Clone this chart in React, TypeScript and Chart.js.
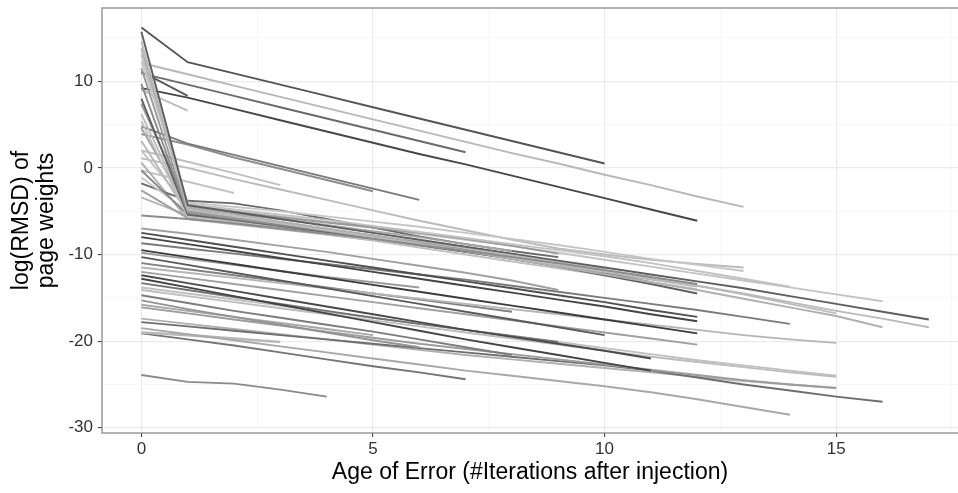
import React, { useEffect, useRef } from "react";
import { Chart, registerables } from "chart.js";

Chart.register(...registerables);

// Each series: log(RMSD) at age 0,1,2,... (iterations after injection)
const upperSeries: number[][] = [
  [16.2, 12.2, 10.9, 9.6, 8.3, 7.0, 5.7, 4.4, 3.1, 1.8, 0.5],
  [12.1, 10.8, 9.5, 8.2, 6.9, 5.6, 4.3, 3.0, 1.7, 0.5, -0.8, -2.0, -3.3, -4.5],
  [10.9, 9.6, 8.3, 7.0, 5.7, 4.4, 3.1, 1.8],
  [9.2, 8.1, 6.8, 5.5, 4.2, 2.9, 1.6, 0.4, -0.9, -2.2, -3.5, -4.8, -6.1],
  [11.1, 8.3],
  [9.0, 6.6],
];
const upperShades = ["#555555", "#b8b8b8", "#6a6a6a", "#474747", "#5a5a5a", "#bdbdbd"];

const middleSeries: number[][] = [
  [4.8, 2.8, 1.5, 0.2, -1.1, -2.4, -3.7],
  [3.9, 2.7, 1.2, -0.1, -1.4, -2.7],
  [1.1, 0.0, -1.3, -2.5, -3.7, -4.9, -6.1, -7.2, -8.3, -9.3, -10.0, -10.6, -11.1, -11.5],
  [-0.3, -1.6, -2.9],
  [2.0, 0.7, -0.6, -2.0],
];
const middleShades = ["#7a7a7a", "#8e8e8e", "#bbbbbb", "#c4c4c4", "#c0c0c0"];

const dropSeries: number[][] = [
  [15.7, -4.3, -5.1, -5.9, -6.7, -7.5, -8.3, -9.1, -9.9, -10.7, -11.5, -12.3, -13.1, -13.9, -14.8, -15.7, -16.6, -17.5],
  [14.6, -4.8, -5.6, -6.4, -7.2, -8.0, -8.8, -9.6, -10.4, -11.2, -12.0, -12.8, -13.6, -14.5, -15.5, -16.5, -17.4, -18.4],
  [13.8, -4.6, -5.4, -6.2, -7.0, -7.8, -8.7, -9.6, -10.5, -11.4, -12.3, -13.2, -14.1, -15.1, -16.1, -17.1, -18.4],
  [13.1, -4.2, -4.8, -5.4, -6.0, -6.7, -7.4, -8.1, -8.8, -9.5, -10.2, -11.0, -11.9, -12.8, -13.7],
  [12.3, -4.0, -4.5, -5.0, -5.6, -6.2, -6.8, -7.5, -8.2, -8.9, -9.7, -10.5, -11.2, -11.9],
  [11.5, -5.0, -5.7, -6.4, -7.1, -7.8, -8.6, -9.5, -10.4, -11.3, -12.2],
  [9.7, -5.2, -5.9, -6.6, -7.3, -8.0, -8.7, -9.5, -10.3, -11.1, -12.1, -13.2],
  [8.0, -5.4, -6.0, -6.7, -7.4, -8.1, -8.9, -9.7, -10.5, -11.4, -12.4, -13.4, -14.5],
  [7.4, -4.5, -5.1, -5.7, -6.3, -6.9, -7.5, -8.2, -9.0, -9.9],
  [6.2, -5.1, -5.8, -6.5, -7.2, -7.9, -8.6, -9.4, -10.2, -11.0, -11.8, -12.7, -13.6, -14.6, -15.7, -16.8],
  [5.4, -5.6, -6.3, -7.0, -7.7, -8.4, -9.2, -10.0, -10.8, -11.6, -12.4, -13.2, -14.0],
  [4.6, -4.7, -5.3, -5.9, -6.6, -7.3, -8.0, -8.8, -9.6],
  [3.1, -5.3, -5.9, -6.5, -7.2, -7.9, -8.6, -9.4, -10.2, -11.0, -11.8, -12.6],
  [-0.3, -5.4, -6.0, -6.7, -7.4, -8.0, -8.6],
  [-1.1, -5.0, -5.7, -6.4, -7.1, -7.8, -8.5, -9.3, -10.1, -10.9, -11.7],
  [-2.6, -5.8, -6.4, -7.0, -7.6, -8.2, -8.9, -9.6, -10.4, -11.2],
  [-3.4, -5.5, -6.1, -6.8, -7.5, -8.2, -8.9, -9.7, -10.5, -11.3, -12.1, -12.9, -13.7],
  [-1.8, -3.8, -4.1, -4.9, -5.9, -6.9, -7.9, -8.8, -9.6, -10.3],
  [2.0, -4.4, -5.0, -5.6, -6.2, -6.9, -7.6, -8.3, -9.0, -9.8, -10.6, -11.4, -12.2, -13.0, -13.8, -14.6, -15.4],
  [0.6, -5.9, -6.5, -7.1, -7.7, -8.3, -9.0, -9.7, -10.4, -11.1, -11.8],
];
const dropShades = [
  "#5e5e5e", "#bababa", "#b0b0b0", "#c2c2c2", "#c6c6c6", "#9a9a9a", "#8c8c8c",
  "#606060", "#9a9a9a", "#bcbcbc", "#c0c0c0", "#a5a5a5", "#b8b8b8", "#8a8a8a",
  "#c8c8c8", "#a0a0a0", "#b4b4b4", "#6a6a6a", "#c3c3c3", "#b0b0b0",
];

const lowerSeries: number[][] = [
  [-5.5, -5.9, -6.4, -7.0, -7.6, -8.2, -8.9, -9.6, -10.3, -11.0, -11.8, -12.6, -13.4],
  [-7.0, -7.6, -8.3, -9.0, -9.7, -10.5, -11.3, -12.1, -13.0, -14.1],
  [-7.5, -8.3, -9.1, -9.9, -10.7, -11.5, -12.3, -13.1, -13.9, -14.7, -15.5, -16.4, -17.2],
  [-8.0, -8.8, -9.6, -10.4, -11.2, -12.0, -12.8, -13.6, -14.4, -15.2, -16.0, -16.9, -17.7],
  [-8.7, -9.3, -9.9, -10.5, -11.1, -11.7, -12.3, -12.9, -13.6, -14.3, -15.0, -15.7, -16.4, -17.2, -18.0],
  [-9.5, -10.3, -11.1, -11.9, -12.7, -13.5, -14.3, -15.1, -15.9, -16.7, -17.5, -18.3, -19.1],
  [-10.3, -11.2, -12.1, -13.0, -13.9, -14.8, -15.7, -16.6, -17.5, -18.4, -19.3],
  [-11.5, -12.1, -12.7, -13.3, -13.9, -14.5, -15.1, -15.7, -16.3, -16.9, -17.5, -18.1, -18.7, -19.3, -19.8, -20.2],
  [-12.4, -13.3, -14.2, -15.1, -16.0, -16.9, -17.8, -18.7, -19.5, -20.3, -21.1, -22.0],
  [-12.8, -13.8, -14.8, -15.8, -16.8, -17.8, -18.8, -19.8, -20.7, -21.6, -22.5, -23.4],
  [-13.3, -14.1, -14.9, -15.7, -16.5, -17.3, -18.0, -18.7, -19.4, -20.1],
  [-14.1, -14.8, -15.5, -16.2, -16.9, -17.6, -18.3, -19.0, -19.7, -20.4, -21.1, -21.8, -22.4, -23.0, -23.6, -24.1],
  [-14.7, -15.6, -16.5, -17.3, -18.1, -18.9, -19.8, -20.7, -21.6],
  [-15.3, -16.3, -17.2, -18.1, -19.0, -19.9, -20.7],
  [-16.1, -16.8, -17.5, -18.2, -18.9, -19.6, -20.3, -20.9, -21.5, -22.1, -22.7, -23.3, -23.9, -24.5, -25.0, -25.4],
  [-18.5, -19.2, -19.9, -20.6, -21.3, -22.0, -22.7, -23.4, -24.0, -24.6, -25.2, -25.9, -26.7, -27.6, -28.5],
  [-17.8, -18.3, -18.8, -19.3, -19.8, -20.3, -20.8, -21.3, -21.8, -22.3, -22.8, -23.4, -24.2, -25.0, -25.7, -26.4, -27.0],
  [-17.4, -18.0, -18.6, -19.2, -19.8, -20.4, -21.0, -21.6, -22.1, -22.6, -23.1, -23.6, -24.1, -24.6, -25.0, -25.4],
  [-19.0, -19.3, -19.7, -20.1],
  [-19.1, -19.8, -20.5, -21.3, -22.1, -22.9, -23.6, -24.4],
  [-23.9, -24.7, -24.9, -25.6, -26.4],
  [-9.8, -10.5, -11.2, -11.9, -12.6, -13.2, -13.8],
  [-12.0, -12.7, -13.4, -14.1, -14.8, -15.5, -16.2, -16.9, -17.6, -18.3, -19.0, -19.7, -20.4],
  [-13.8, -14.5, -15.2, -15.9, -16.6, -17.3, -18.0, -18.7, -19.4, -20.1, -20.8, -21.5, -22.2, -22.8, -23.4, -24.0],
  [-11.0, -11.7, -12.4, -13.1, -13.8, -14.5, -15.2, -15.9, -16.6],
  [-15.8, -16.5, -17.2, -17.9, -18.6, -19.3],
];
const lowerShades = [
  "#8c8c8c", "#a0a0a0", "#505050", "#444444", "#7a7a7a", "#3c3c3c", "#5a5a5a",
  "#b5b5b5", "#4a4a4a", "#444444", "#737373", "#bdbdbd", "#7c7c7c", "#939393",
  "#9c9c9c", "#a8a8a8", "#6e6e6e", "#b0b0b0", "#b8b8b8", "#747474", "#8a8a8a",
  "#9c9c9c", "#a0a0a0", "#c0c0c0", "#808080", "#a8a8a8",
];

const xGridValues = [0, 2.5, 5, 7.5, 10, 12.5, 15, 17.5];
const xLabelValues = [0, 5, 10, 15];
const yGridValues = [-30, -25, -20, -15, -10, -5, 0, 5, 10, 15];
const yLabelValues = [-30, -20, -10, 0, 10];

const xTitle = "Age of Error (#Iterations after injection)";
const yTitle = ["log(RMSD) of", "page weights"];

const FONT = "'Liberation Sans', Arial, Helvetica, sans-serif";

export default function App() {
  const canvasRef = useRef<HTMLCanvasElement | null>(null);

  useEffect(() => {
    document.body.style.margin = "0";
    const canvas = canvasRef.current;
    if (!canvas) return;

    const groups: [number[][], string[]][] = [
      [lowerSeries, lowerShades],
      [dropSeries, dropShades],
      [middleSeries, middleShades],
      [upperSeries, upperShades],
    ];
    const datasets: any[] = [];
    groups.forEach(([series, shades]) => {
      series.forEach((vals, i) => {
        datasets.push({
          data: vals.map((y, x) => ({ x, y })),
          borderColor: shades[i % shades.length],
          borderWidth: vals.length <= 4 && series === lowerSeries ? 2.6 : 1.9,
          pointRadius: 0,
          fill: false,
          tension: 0,
        });
      });
    });

    const isIn = (arr: number[], v: number) => arr.some((a) => Math.abs(a - v) < 1e-6);

    const borderPlugin = {
      id: "panelBorder",
      afterDatasetsDraw(chart: any) {
        const { ctx, chartArea } = chart;
        ctx.save();
        ctx.strokeStyle = "#8a8a8a";
        ctx.lineWidth = 1.3;
        ctx.strokeRect(chartArea.left, chartArea.top, chartArea.right - chartArea.left + 10, chartArea.bottom - chartArea.top);
        ctx.restore();
      },
    };

    const chart = new Chart(canvas, {
      type: "line",
      data: { datasets },
      plugins: [borderPlugin],
      options: {
        responsive: false,
        animation: false,
        layout: { padding: { top: 8, left: 0, right: 0, bottom: 0 } },
        plugins: { legend: { display: false }, tooltip: { enabled: false } },
        scales: {
          x: {
            type: "linear",
            min: -0.85,
            max: 17.63,
            afterBuildTicks: (s: any) => {
              s.ticks = xGridValues.map((v) => ({ value: v }));
            },
            afterFit: (s: any) => {
              s.height = 60;
              s.paddingLeft = 0;
              s.paddingRight = 0;
            },
            border: { display: false },
            grid: {
              color: (c: any) => (isIn(xLabelValues, c.tick.value) ? "#ebebeb" : "#f5f5f5"),
              lineWidth: (c: any) => (isIn(xLabelValues, c.tick.value) ? 1.2 : 0.7),
              tickLength: 4,
              tickColor: (c: any) => (isIn(xLabelValues, c.tick.value) ? "#333333" : "rgba(0,0,0,0)"),
              tickWidth: 1,
            },
            ticks: {
              autoSkip: false,
              maxRotation: 0,
              padding: 2,
              color: "#333333",
              font: { family: FONT, size: 17 },
              callback: (v: any) => (isIn(xLabelValues, Number(v)) ? String(v) : ""),
            },
            title: {
              display: true,
              text: xTitle,
              color: "#000000",
              font: { family: FONT, size: 23, lineHeight: 1.05 },
              padding: { top: 0, bottom: 8 },
            },
          },
          y: {
            type: "linear",
            min: -30.6,
            max: 18.45,
            afterBuildTicks: (s: any) => {
              s.ticks = yGridValues.map((v) => ({ value: v }));
            },
            afterFit: (s: any) => {
              s.width = 102;
              s.paddingTop = 0;
              s.paddingBottom = 0;
            },
            border: { display: false },
            grid: {
              color: (c: any) => (isIn(yLabelValues, c.tick.value) ? "#ebebeb" : "#f5f5f5"),
              lineWidth: (c: any) => (isIn(yLabelValues, c.tick.value) ? 1.2 : 0.7),
              tickLength: 4,
              tickColor: (c: any) => (isIn(yLabelValues, c.tick.value) ? "#333333" : "rgba(0,0,0,0)"),
              tickWidth: 1,
            },
            ticks: {
              autoSkip: false,
              padding: 5,
              color: "#333333",
              font: { family: FONT, size: 17 },
              callback: (v: any) => (isIn(yLabelValues, Number(v)) ? String(v) : ""),
            },
            title: {
              display: true,
              text: yTitle,
              color: "#000000",
              font: { family: FONT, size: 23, lineHeight: 1.05 },
              padding: { top: 10, bottom: 0 },
            },
          },
        },
      },
    } as any);

    return () => chart.destroy();
  }, []);

  return (
    <div style={{ position: "fixed", left: 0, top: 0, width: 958, height: 493, background: "#ffffff" }}>
      <canvas ref={canvasRef} width={958} height={493} />
    </div>
  );
}
